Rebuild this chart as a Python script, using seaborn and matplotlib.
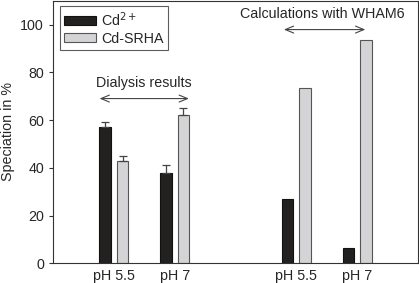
import numpy as np
import pandas as pd
import matplotlib
matplotlib.use("Agg")
import matplotlib.pyplot as plt
import seaborn as sns

# data
labels = ["pH 5.5", "pH 7", "pH 5.5", "pH 7"]
positions = [0, 1, 3, 4]
species = ["Cd$^{2+}$", "Cd-SRHA"]
cd_free = [57, 38, 26.8, 6.5]
cd_srha = [43, 62.2, 73.5, 93.7]
cd_free_err = [2, 3, 0, 0]
cd_srha_err = [2, 3, 0, 0]

df = pd.DataFrame({
    "pos": positions * 2,
    "val": cd_free + cd_srha,
    "species": [species[0]] * 4 + [species[1]] * 4,
})

sns.set_style("ticks")
plt.rcParams["font.family"] = ["Liberation Sans", "DejaVu Sans"]
fs = 10.3

fig = plt.figure(figsize=(4.19, 2.83), dpi=100)
ax = fig.add_axes([0.1265, 0.0696, 0.871, 0.928])

sns.barplot(data=df, x="pos", y="val", hue="species", native_scale=True,
            width=0.574, gap=0.34, palette=["#231f20", "#d4d4d6"],
            errorbar=None, ax=ax)

edges = ["#111111", "#555555"]
for cont, ec, err in zip(ax.containers, edges, [cd_free_err, cd_srha_err]):
    for bar, e in zip(cont, err):
        bar.set_edgecolor(ec)
        bar.set_linewidth(0.8)
        if e > 0:
            xc = bar.get_x() + bar.get_width() / 2
            ax.errorbar(xc, bar.get_height(), yerr=[[0], [e]], fmt="none",
                        ecolor="#444444", elinewidth=0.9, capsize=3, capthick=0.9)

ax.set_xlim(-1, 5)
ax.set_ylim(0, 110)
ax.set_xticks(positions)
ax.set_xticklabels(labels, fontsize=fs)
ax.tick_params(axis="x", length=0, pad=4)
ax.set_yticks([0, 20, 40, 60, 80, 100])
ax.tick_params(axis="y", labelsize=fs, length=3, width=0.8, color="#333333")
ax.set_xlabel("")
ax.set_ylabel("Speciation in %", fontsize=fs)
for s in ax.spines.values():
    s.set_linewidth(0.8)
    s.set_color("#333333")

# group annotations
ax.annotate("", xy=(-0.28, 69), xytext=(1.28, 69),
            arrowprops=dict(arrowstyle="<->,head_length=0.6,head_width=0.25",
                            color="#444444", lw=0.8))
ax.text(0.5, 75.5, "Dialysis results", ha="center", va="center", fontsize=fs)
ax.annotate("", xy=(2.75, 97.9), xytext=(4.18, 97.9),
            arrowprops=dict(arrowstyle="<->,head_length=0.6,head_width=0.25",
                            color="#444444", lw=0.8))
ax.text(3.43, 104.3, "Calculations with WHAM6", ha="center", va="center", fontsize=fs)

leg = ax.legend(loc="upper left", bbox_to_anchor=(0.019, 0.98), fontsize=fs,
                frameon=True, fancybox=False, edgecolor="#333333",
                handlelength=2.2, handleheight=0.55, borderpad=0.3,
                labelspacing=0.2, handletextpad=0.4, borderaxespad=0)
leg.get_frame().set_linewidth(0.8)
for h, ec in zip(leg.legend_handles, edges):
    h.set_edgecolor(ec)
    h.set_linewidth(0.8)

fig.savefig("out.png", dpi=100)
